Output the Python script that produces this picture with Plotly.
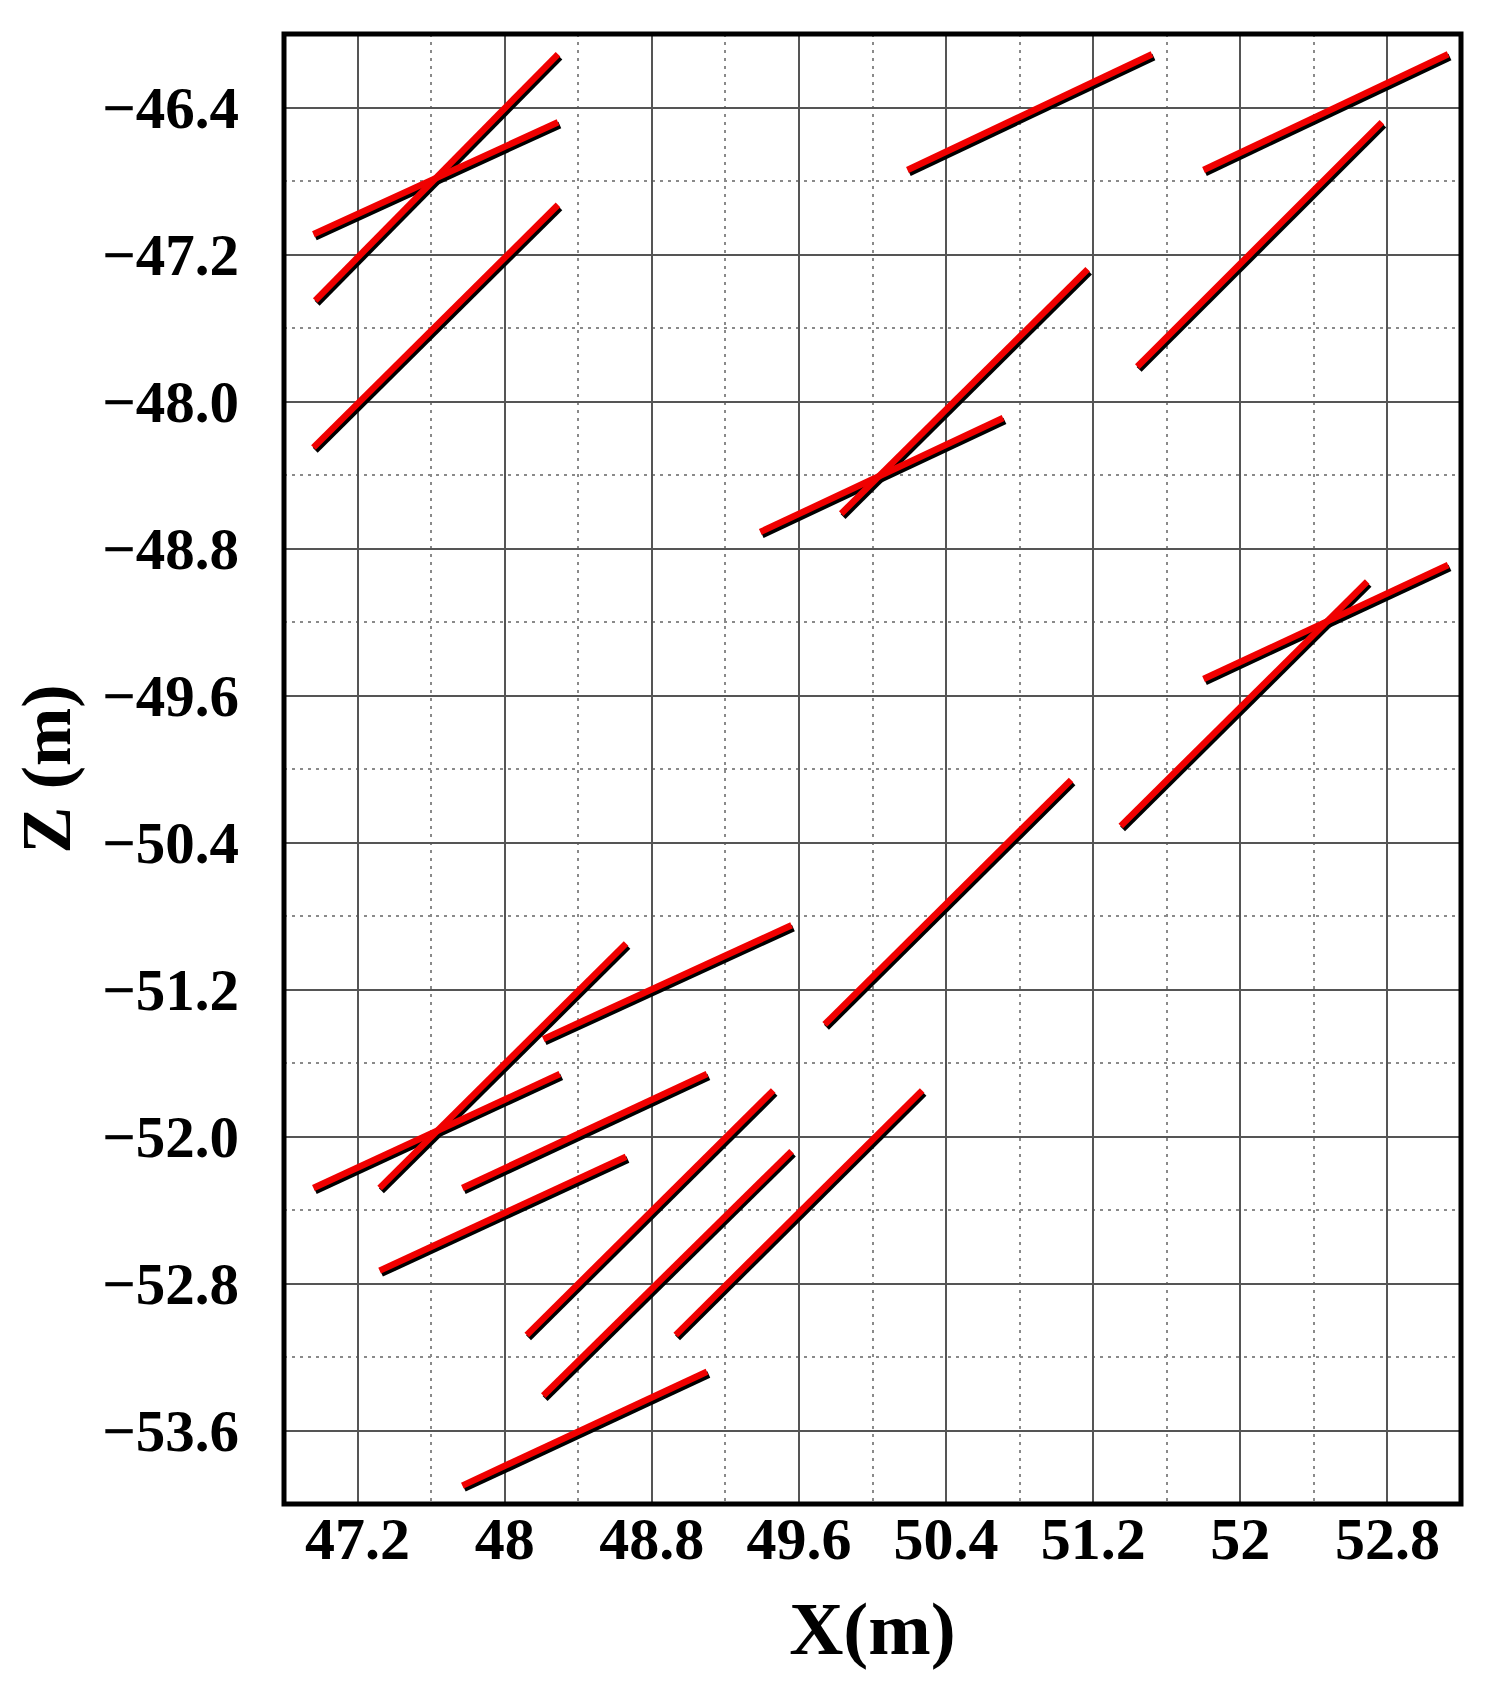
import numpy as np
import plotly.graph_objects as go

# Fracture trace segments (start/end coordinates in metres)
x_start = [46.97, 46.96, 46.96, 50.19, 51.80, 51.44, 49.83, 49.39, 51.80, 51.35,
           49.74, 47.32, 48.21, 46.96, 47.77, 47.32, 48.12, 48.21, 48.93, 47.77]
z_start = [-47.45, -47.09, -48.25, -46.74, -46.74, -47.81, -48.61, -48.71, -49.51, -50.31,
           -51.39, -52.28, -51.47, -52.28, -52.28, -52.73, -53.08, -53.41, -53.08, -53.90]
x_end = [48.29, 48.29, 48.29, 51.52, 53.13, 52.77, 51.17, 50.71, 53.13, 52.69,
         51.08, 48.66, 49.56, 48.30, 49.10, 48.66, 49.46, 49.56, 50.27, 49.10]
z_end = [-46.11, -46.48, -46.93, -46.11, -46.11, -46.48, -47.28, -48.09, -48.89, -48.98,
         -50.06, -50.95, -50.85, -51.66, -51.66, -52.11, -51.75, -52.08, -51.75, -53.28]

x_ticks = [47.2, 48.0, 48.8, 49.6, 50.4, 51.2, 52.0, 52.8]
x_tick_labels = ["47.2", "48", "48.8", "49.6", "50.4", "51.2", "52", "52.8"]
z_ticks = [-46.4, -47.2, -48.0, -48.8, -49.6, -50.4, -51.2, -52.0, -52.8, -53.6]
z_tick_labels = ["\u221246.4", "\u221247.2", "\u221248.0", "\u221248.8", "\u221249.6",
                 "\u221250.4", "\u221251.2", "\u221252.0", "\u221252.8", "\u221253.6"]

x_range = [46.8, 53.2]
z_range = [-54.0, -46.0]

# page has an 8px body margin; size figure to fit inside the window
W, H = 1474, 1666
M_L, M_R, M_T, M_B = 276, 21, 26, 170
px_x = (W - M_L - M_R) / (x_range[1] - x_range[0])
px_z = (H - M_T - M_B) / (z_range[1] - z_range[0])
sh_dx, sh_dz = 1.8 / px_x, -2.8 / px_z  # drop-shadow offset


def seg_xy(xs, zs, xe, ze, dx=0.0, dz=0.0):
    X, Z = [], []
    for a, b, c, d in zip(xs, zs, xe, ze):
        X += [a + dx, c + dx, None]
        Z += [b + dz, d + dz, None]
    return X, Z


fig = go.Figure()
bx, bz = seg_xy(x_start, z_start, x_end, z_end, sh_dx, sh_dz)
fig.add_trace(go.Scatter(x=bx, y=bz, mode="lines", line=dict(color="black", width=7),
                         hoverinfo="skip", showlegend=False))
rx, rz = seg_xy(x_start, z_start, x_end, z_end)
fig.add_trace(go.Scatter(x=rx, y=rz, mode="lines", line=dict(color="#f00000", width=6.5),
                         showlegend=False))

font_fam = "Liberation Serif"
x_minor = list((np.array(x_ticks[:-1]) + np.array(x_ticks[1:])) / 2)
z_minor = list((np.array(z_ticks[:-1]) + np.array(z_ticks[1:])) / 2)

fig.update_layout(
    width=W, height=H,
    margin=dict(l=M_L, r=M_R, t=M_T, b=M_B),
    paper_bgcolor="white", plot_bgcolor="white",
    xaxis=dict(
        range=x_range, tickmode="array", tickvals=x_ticks, ticktext=x_tick_labels,
        showgrid=True, gridcolor="#555555", gridwidth=2, zeroline=False,
        showline=False, ticks="",
        tickfont=dict(family=font_fam, size=60, color="black", weight="bold"),
        ticklabelstandoff=-6,
        minor=dict(tickmode="array", tickvals=x_minor, showgrid=True,
                   gridcolor="#8a8a8a", gridwidth=2, griddash="3px,5px", ticks=""),
        title=dict(text="X(m)", font=dict(family=font_fam, size=75, color="black", weight="bold"),
                   standoff=30),
        automargin=False,
    ),
    yaxis=dict(
        range=z_range, tickmode="array", tickvals=z_ticks, ticktext=z_tick_labels,
        showgrid=True, gridcolor="#555555", gridwidth=2, zeroline=False,
        showline=False, ticks="",
        tickfont=dict(family=font_fam, size=59, color="black", weight="bold"),
        ticklabelstandoff=44,
        minor=dict(tickmode="array", tickvals=z_minor, showgrid=True,
                   gridcolor="#8a8a8a", gridwidth=2, griddash="3px,5px", ticks=""),
        title=dict(text="Z (m)", font=dict(family=font_fam, size=70, color="black", weight="bold"),
                   standoff=20),
        automargin=False,
    ),
    shapes=[dict(type="rect", xref="paper", yref="paper", x0=0, x1=1, y0=0, y1=1,
                 line=dict(color="black", width=5), layer="above")],
)

fig.write_html("out.html")
